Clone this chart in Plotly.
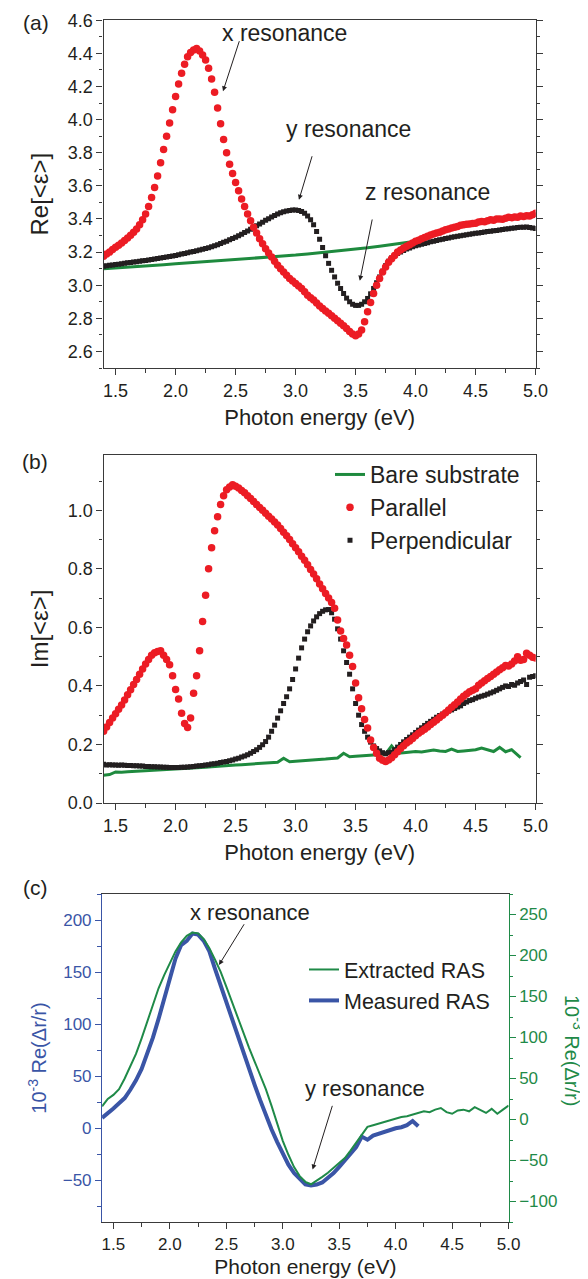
import plotly.graph_objects as go

# ---------------- data ----------------
energy = [
    1.400, 1.425, 1.450, 1.475, 1.500, 1.525, 1.550, 1.575,
    1.600, 1.625, 1.650, 1.675, 1.700, 1.725, 1.750, 1.775,
    1.800, 1.825, 1.850, 1.875, 1.900, 1.925, 1.950, 1.975,
    2.000, 2.025, 2.050, 2.075, 2.100, 2.125, 2.150, 2.175,
    2.200, 2.225, 2.250, 2.275, 2.300, 2.325, 2.350, 2.375,
    2.400, 2.425, 2.450, 2.475, 2.500, 2.525, 2.550, 2.575,
    2.600, 2.625, 2.650, 2.675, 2.700, 2.725, 2.750, 2.775,
    2.800, 2.825, 2.850, 2.875, 2.900, 2.925, 2.950, 2.975,
    3.000, 3.025, 3.050, 3.075, 3.100, 3.125, 3.150, 3.175,
    3.200, 3.225, 3.250, 3.275, 3.300, 3.325, 3.350, 3.375,
    3.400, 3.425, 3.450, 3.475, 3.500, 3.525, 3.550, 3.575,
    3.600, 3.625, 3.650, 3.675, 3.700, 3.725, 3.750, 3.775,
    3.800, 3.825, 3.850, 3.875, 3.900, 3.925, 3.950, 3.975,
    4.000, 4.025, 4.050, 4.075, 4.100, 4.125, 4.150, 4.175,
    4.200, 4.225, 4.250, 4.275, 4.300, 4.325, 4.350, 4.375,
    4.400, 4.425, 4.450, 4.475, 4.500, 4.525, 4.550, 4.575,
    4.600, 4.625, 4.650, 4.675, 4.700, 4.725, 4.750, 4.775,
    4.800, 4.825, 4.850, 4.875, 4.900, 4.925, 4.950, 4.975,
    5.000]

# (a) Re<eps>
re_parallel = [
    3.175, 3.188, 3.200, 3.215, 3.230, 3.242, 3.255, 3.270,
    3.285, 3.302, 3.320, 3.340, 3.365, 3.395, 3.430, 3.475,
    3.530, 3.590, 3.660, 3.740, 3.820, 3.900, 3.980, 4.060,
    4.140, 4.215, 4.280, 4.335, 4.380, 4.405, 4.420, 4.430,
    4.415, 4.390, 4.360, 4.310, 4.245, 4.165, 4.070, 3.975,
    3.880, 3.800, 3.730, 3.675, 3.620, 3.570, 3.520, 3.475,
    3.430, 3.390, 3.350, 3.315, 3.280, 3.250, 3.220, 3.195,
    3.170, 3.145, 3.120, 3.100, 3.080, 3.060, 3.040, 3.025,
    3.010, 2.995, 2.980, 2.960, 2.940, 2.925, 2.910, 2.892,
    2.875, 2.860, 2.845, 2.830, 2.815, 2.800, 2.785, 2.770,
    2.755, 2.738, 2.720, 2.705, 2.695, 2.705, 2.730, 2.780,
    2.840, 2.895, 2.950, 3.000, 3.040, 3.080, 3.110, 3.138,
    3.160, 3.180, 3.200, 3.213, 3.225, 3.235, 3.245, 3.255,
    3.265, 3.272, 3.280, 3.288, 3.295, 3.303, 3.310, 3.315,
    3.320, 3.328, 3.335, 3.340, 3.345, 3.350, 3.355, 3.362,
    3.365, 3.368, 3.370, 3.372, 3.375, 3.382, 3.385, 3.383,
    3.390, 3.395, 3.392, 3.400, 3.400, 3.398, 3.405, 3.410,
    3.408, 3.412, 3.410, 3.418, 3.415, 3.420, 3.418, 3.425,
    3.435]

re_perpendicular = [
    3.115, 3.117, 3.120, 3.122, 3.125, 3.127, 3.130, 3.132,
    3.135, 3.137, 3.140, 3.142, 3.145, 3.148, 3.150, 3.153,
    3.155, 3.158, 3.162, 3.165, 3.168, 3.171, 3.174, 3.177,
    3.180, 3.184, 3.188, 3.192, 3.196, 3.200, 3.204, 3.208,
    3.212, 3.217, 3.222, 3.227, 3.233, 3.239, 3.245, 3.252,
    3.259, 3.266, 3.274, 3.282, 3.290, 3.299, 3.308, 3.318,
    3.328, 3.338, 3.348, 3.359, 3.370, 3.381, 3.392, 3.402,
    3.412, 3.421, 3.430, 3.437, 3.443, 3.448, 3.452, 3.454,
    3.454, 3.451, 3.445, 3.435, 3.418, 3.395, 3.365, 3.325,
    3.278, 3.228, 3.178, 3.132, 3.090, 3.050, 3.012, 2.980,
    2.950, 2.922, 2.900, 2.885, 2.878, 2.878, 2.885, 2.900,
    2.920, 2.948, 2.980, 3.015, 3.050, 3.085, 3.118, 3.145,
    3.165, 3.180, 3.192, 3.201, 3.210, 3.218, 3.225, 3.232,
    3.238, 3.243, 3.248, 3.252, 3.257, 3.262, 3.266, 3.270,
    3.274, 3.278, 3.282, 3.285, 3.289, 3.292, 3.296, 3.299,
    3.302, 3.305, 3.308, 3.311, 3.314, 3.316, 3.318, 3.321,
    3.324, 3.326, 3.329, 3.331, 3.334, 3.336, 3.339, 3.341,
    3.344, 3.346, 3.348, 3.350, 3.350, 3.352, 3.348, 3.345,
    3.342]

re_substrate_energy = [1.4, 1.5, 1.6, 1.7, 1.8, 1.9, 2.0, 2.1, 2.2, 2.3, 2.4, 2.5, 2.6, 2.7,
                       2.8, 2.9, 3.0, 3.1, 3.2, 3.3, 3.4, 3.5, 3.6, 3.7, 3.8, 3.9, 4.0]
re_substrate = [3.100, 3.104, 3.109, 3.114, 3.119, 3.124, 3.129, 3.134, 3.139, 3.144,
                3.149, 3.154, 3.159, 3.165, 3.171, 3.176, 3.182, 3.189, 3.196, 3.203,
                3.210, 3.218, 3.226, 3.236, 3.246, 3.256, 3.266]

# (b) Im<eps>
im_parallel = [
    0.245, 0.260, 0.275, 0.290, 0.305, 0.320, 0.335, 0.352,
    0.370, 0.387, 0.405, 0.422, 0.440, 0.458, 0.475, 0.490,
    0.505, 0.513, 0.518, 0.520, 0.505, 0.490, 0.472, 0.435,
    0.388, 0.355, 0.307, 0.272, 0.258, 0.290, 0.375, 0.435,
    0.520, 0.620, 0.710, 0.800, 0.872, 0.930, 0.978, 1.020,
    1.050, 1.070, 1.080, 1.087, 1.082, 1.076, 1.068, 1.060,
    1.050, 1.040, 1.030, 1.020, 1.010, 1.000, 0.990, 0.980,
    0.970, 0.960, 0.950, 0.938, 0.925, 0.913, 0.900, 0.886,
    0.872, 0.858, 0.843, 0.829, 0.814, 0.798, 0.782, 0.766,
    0.748, 0.732, 0.716, 0.700, 0.685, 0.665, 0.625, 0.588,
    0.562, 0.540, 0.505, 0.466, 0.410, 0.360, 0.322, 0.285,
    0.256, 0.215, 0.190, 0.170, 0.153, 0.146, 0.142, 0.147,
    0.155, 0.165, 0.175, 0.186, 0.196, 0.205, 0.212, 0.220,
    0.230, 0.238, 0.245, 0.252, 0.260, 0.268, 0.276, 0.284,
    0.292, 0.300, 0.308, 0.318, 0.327, 0.336, 0.345, 0.355,
    0.365, 0.372, 0.380, 0.385, 0.390, 0.402, 0.410, 0.418,
    0.425, 0.432, 0.440, 0.448, 0.455, 0.462, 0.470, 0.468,
    0.475, 0.485, 0.500, 0.488, 0.490, 0.512, 0.505, 0.498,
    0.495]

im_perpendicular = [
    0.132, 0.130, 0.131, 0.130, 0.130, 0.129, 0.130, 0.129,
    0.128, 0.128, 0.127, 0.127, 0.126, 0.126, 0.125, 0.125,
    0.124, 0.124, 0.123, 0.123, 0.122, 0.122, 0.121, 0.121,
    0.121, 0.121, 0.122, 0.122, 0.123, 0.124, 0.125, 0.126,
    0.127, 0.128, 0.130, 0.131, 0.133, 0.134, 0.136, 0.138,
    0.140, 0.142, 0.144, 0.147, 0.150, 0.153, 0.157, 0.161,
    0.165, 0.170, 0.176, 0.182, 0.190, 0.199, 0.210, 0.225,
    0.245, 0.266, 0.290, 0.315, 0.340, 0.363, 0.390, 0.422,
    0.458, 0.495, 0.530, 0.560, 0.585, 0.605, 0.622, 0.636,
    0.647, 0.655, 0.660, 0.661, 0.650, 0.628, 0.595, 0.560,
    0.520, 0.480, 0.440, 0.390, 0.340, 0.300, 0.268, 0.245,
    0.225, 0.208, 0.195, 0.186, 0.178, 0.172, 0.168, 0.172,
    0.174, 0.182, 0.191, 0.200, 0.209, 0.217, 0.225, 0.233,
    0.241, 0.249, 0.257, 0.265, 0.272, 0.279, 0.286, 0.293,
    0.299, 0.304, 0.309, 0.314, 0.318, 0.323, 0.328, 0.332,
    0.340, 0.345, 0.350, 0.353, 0.358, 0.362, 0.365, 0.368,
    0.372, 0.376, 0.380, 0.385, 0.390, 0.395, 0.400, 0.398,
    0.405, 0.402, 0.410, 0.415, 0.420, 0.405, 0.430, 0.432,
    0.435]

im_substrate_energy = [
    1.40, 1.45, 1.50, 1.55, 1.60, 1.65, 1.70, 1.75,
    1.80, 1.85, 1.90, 1.95, 2.00, 2.05, 2.10, 2.15,
    2.20, 2.25, 2.30, 2.35, 2.40, 2.45, 2.50, 2.55,
    2.60, 2.65, 2.70, 2.75, 2.80, 2.85, 2.90, 2.95,
    3.00, 3.05, 3.10, 3.15, 3.20, 3.25, 3.30, 3.35,
    3.40, 3.45, 3.50, 3.55, 3.60, 3.65, 3.70, 3.75,
    3.80, 3.85, 3.90, 3.95, 4.00, 4.05, 4.10, 4.15,
    4.20, 4.25, 4.30, 4.35, 4.40, 4.45, 4.50, 4.55,
    4.60, 4.65, 4.70, 4.75, 4.80, 4.85, 4.875]
im_substrate = [
    0.095, 0.097, 0.106, 0.105, 0.107, 0.108, 0.110, 0.110,
    0.112, 0.113, 0.114, 0.115, 0.116, 0.117, 0.118, 0.119,
    0.120, 0.122, 0.124, 0.126, 0.127, 0.128, 0.130, 0.131,
    0.132, 0.133, 0.135, 0.136, 0.138, 0.139, 0.153, 0.141,
    0.143, 0.144, 0.146, 0.147, 0.148, 0.150, 0.152, 0.154,
    0.170, 0.158, 0.160, 0.162, 0.163, 0.164, 0.165, 0.168,
    0.195, 0.170, 0.172, 0.175, 0.176, 0.174, 0.178, 0.181,
    0.178, 0.176, 0.184, 0.176, 0.178, 0.181, 0.182, 0.188,
    0.183, 0.176, 0.190, 0.175, 0.182, 0.163, 0.155]

# (c) RAS
ras_measured_energy = [
    1.40, 1.45, 1.50, 1.55, 1.60, 1.65, 1.70, 1.75,
    1.80, 1.85, 1.90, 1.95, 2.00, 2.05, 2.10, 2.15,
    2.20, 2.25, 2.30, 2.35, 2.40, 2.45, 2.50, 2.55,
    2.60, 2.65, 2.70, 2.75, 2.80, 2.85, 2.90, 2.95,
    3.00, 3.05, 3.10, 3.15, 3.20, 3.25, 3.30, 3.35,
    3.40, 3.45, 3.50, 3.55, 3.60, 3.65, 3.70, 3.75,
    3.80, 3.85, 3.90, 3.95, 4.00, 4.05, 4.10, 4.15,
    4.20]
ras_measured = [
    10, 14, 19, 24, 29, 37, 46, 57,
    71, 87, 105, 125, 146, 163, 176, 180,
    187, 186, 180, 170, 153, 137, 120, 104,
    89, 73, 57, 42, 27, 12, -1, -13,
    -25, -35, -43, -49, -54, -55, -54, -52,
    -48, -43, -37, -31, -25, -18, -8, -11,
    -7, -5, -3, -2, 0, 1, 3, 7,
    2]

ras_extracted_energy = [
    1.40, 1.45, 1.50, 1.55, 1.60, 1.65, 1.70, 1.75,
    1.80, 1.85, 1.90, 1.95, 2.00, 2.05, 2.10, 2.15,
    2.20, 2.25, 2.30, 2.35, 2.40, 2.45, 2.50, 2.55,
    2.60, 2.65, 2.70, 2.75, 2.80, 2.85, 2.90, 2.95,
    3.00, 3.05, 3.10, 3.15, 3.20, 3.25, 3.30, 3.35,
    3.40, 3.45, 3.50, 3.55, 3.60, 3.65, 3.70, 3.75,
    3.80, 3.85, 3.90, 3.95, 4.00, 4.05, 4.10, 4.15,
    4.20, 4.25, 4.30, 4.35, 4.40, 4.45, 4.50, 4.55,
    4.60, 4.65, 4.70, 4.75, 4.80, 4.85, 4.90, 4.95,
    5.00]
ras_extracted = [
    16, 25, 30, 37, 50, 65, 80, 99,
    119, 140, 160, 176, 191, 205, 216, 224,
    228, 227, 220, 209, 195, 180, 162, 143,
    124, 106, 88, 71, 54, 37, 17, -6,
    -26, -43, -58, -69, -76, -79, -75, -70,
    -65, -59, -53, -47, -38, -28, -18, -9,
    -7, -5, -3, -1, 1, 3, 4, 6,
    8, 10, 9, 12, 14, 9, 7, 11,
    12, 10, 15, 11, 8, 13, 7, 12,
    17]

x_ticks = [1.5, 2.0, 2.5, 3.0, 3.5, 4.0, 4.5, 5.0]

# ---------------- style ----------------
W, H = 588, 1279
FONT = "Liberation Sans, Arial, Helvetica, sans-serif"
INK = "#231f20"
RED = "#ec1c24"
GREEN = "#1e8a3e"
BLUE = "#3a55a6"
GREEN_C = "#1f8a48"


def px(x):
    return x / W


def py(y):
    return 1 - y / H


def axis_common(color=INK, linecolor="#3a3a3a"):
    return dict(
        showline=True, linecolor=linecolor, linewidth=1.3,
        ticks="outside", ticklen=6, tickwidth=1.2, tickcolor=linecolor,
        showgrid=False, zeroline=False, automargin=False,
        tickfont=dict(family=FONT, size=18, color=color),
    )


fig = go.Figure()

# panel a
fig.add_trace(go.Scatter(x=re_substrate_energy, y=re_substrate, mode="lines",
                         line=dict(color=GREEN, width=3), xaxis="x", yaxis="y",
                         showlegend=False))
fig.add_trace(go.Scatter(x=energy, y=re_perpendicular, mode="markers",
                         marker=dict(symbol="square", size=5, color=INK),
                         xaxis="x", yaxis="y", showlegend=False))
fig.add_trace(go.Scatter(x=energy, y=re_parallel, mode="markers",
                         marker=dict(symbol="circle", size=7.5, color=RED),
                         xaxis="x", yaxis="y", showlegend=False))

# panel b
fig.add_trace(go.Scatter(x=im_substrate_energy, y=im_substrate, mode="lines",
                         name="Bare substrate", line=dict(color=GREEN, width=3),
                         xaxis="x2", yaxis="y2", legend="legend", legendrank=1))
fig.add_trace(go.Scatter(x=energy, y=im_perpendicular, mode="markers",
                         name="Perpendicular",
                         marker=dict(symbol="square", size=5, color=INK),
                         xaxis="x2", yaxis="y2", legend="legend", legendrank=3))
fig.add_trace(go.Scatter(x=energy, y=im_parallel, mode="markers", name="Parallel",
                         marker=dict(symbol="circle", size=7.5, color=RED),
                         xaxis="x2", yaxis="y2", legend="legend", legendrank=2))

# panel c
fig.add_trace(go.Scatter(x=ras_measured_energy, y=ras_measured, mode="lines",
                         name="Measured RAS", line=dict(color=BLUE, width=4),
                         xaxis="x3", yaxis="y3", legend="legend2", legendrank=2))
fig.add_trace(go.Scatter(x=ras_extracted_energy, y=ras_extracted, mode="lines",
                         name="Extracted RAS", line=dict(color=GREEN_C, width=2),
                         xaxis="x3", yaxis="y4", legend="legend2", legendrank=1))

xa = axis_common()
xa.update(range=[1.4, 5.0], tickvals=x_ticks, ticktext=[f"{v:.1f}" for v in x_ticks],
          minor=dict(ticks="outside", ticklen=3.5, tickwidth=1, tickcolor="#3a3a3a",
                     tick0=1.5, dtick=0.25),
          mirror=True)

x_title = dict(text="Photon energy (eV)", font=dict(family=FONT, size=22, color=INK),
               standoff=9)

layout = dict(
    width=W, height=H, margin=dict(l=0, r=0, t=0, b=0, autoexpand=False),
    paper_bgcolor="white", plot_bgcolor="white",
    font=dict(family=FONT, color=INK),
)

# panel a axes
xaxis = dict(xa, domain=[px(95.6), px(527.6)], anchor="y", title=x_title)
yaxis = axis_common()
yaxis.update(domain=[py(360), py(12.3)], anchor="x", range=[2.5, 4.6], tick0=2.6, dtick=0.2,
             tickformat=".1f", mirror="ticks",
             minor=dict(ticks="outside", ticklen=3.5, tickwidth=1, tickcolor="#3a3a3a", dtick=0.1),
             title=dict(text="Re[<ε>]", font=dict(family=FONT, size=24, color=INK), standoff=12))

# panel b axes
xaxis2 = dict(xa, domain=[px(95.6), px(527.6)], anchor="y2", title=x_title)
yaxis2 = axis_common()
yaxis2.update(domain=[py(795), py(446.7)], anchor="x2", range=[0, 1.19], tick0=0, dtick=0.2,
              tickformat=".1f", mirror="ticks",
              minor=dict(ticks="outside", ticklen=3.5, tickwidth=1, tickcolor="#3a3a3a", dtick=0.1),
              title=dict(text="Im[<ε>]", font=dict(family=FONT, size=24, color=INK), standoff=12))

# panel c axes
xaxis3 = dict(xa, domain=[px(94.1), px(500.6)], anchor="y3",
              title=dict(text="Photon energy (eV)", font=dict(family=FONT, size=21, color=INK),
                         standoff=6))
xaxis3["tickfont"] = dict(family=FONT, size=17, color=INK)
yaxis3 = axis_common(color=BLUE, linecolor=BLUE)
yaxis3.update(domain=[py(1214), py(886)], anchor="x3", range=[-90, 225], tick0=0, dtick=50,
              tickfont=dict(family=FONT, size=17, color=BLUE),
              minor=dict(ticks="outside", ticklen=3.5, tickwidth=1, tickcolor=BLUE, dtick=25),
              title=dict(text="10<sup>-3</sup> Re(Δr/r)",
                         font=dict(family=FONT, size=20, color=BLUE), standoff=10))
yaxis4 = axis_common(color=GREEN_C, linecolor=GREEN_C)
yaxis4.update(overlaying="y3", side="right", anchor="x3", range=[-125, 275], tick0=0, dtick=50,
              tickfont=dict(family=FONT, size=17, color=GREEN_C),
              minor=dict(ticks="outside", ticklen=3.5, tickwidth=1, tickcolor=GREEN_C, dtick=25))

layout.update(xaxis=xaxis, yaxis=yaxis, xaxis2=xaxis2, yaxis2=yaxis2,
              xaxis3=xaxis3, yaxis3=yaxis3, yaxis4=yaxis4)

layout["legend"] = dict(x=px(322), y=py(445), xanchor="left", yanchor="top",
                        bgcolor="rgba(0,0,0,0)", borderwidth=0,
                        font=dict(family=FONT, size=23, color=INK), tracegroupgap=0,
                        itemsizing="trace")
layout["legend2"] = dict(x=px(296), y=py(941), xanchor="left", yanchor="top",
                         bgcolor="rgba(0,0,0,0)", borderwidth=0,
                         font=dict(family=FONT, size=21.5, color=INK), tracegroupgap=0)

ann = []
for label, (x0, y0) in {"(a)": (28, 14), "(b)": (27, 453), "(c)": (27, 879)}.items():
    ann.append(dict(text=label, x=px(x0), y=py(y0), xref="paper", yref="paper",
                    xanchor="center", yanchor="middle", showarrow=False,
                    font=dict(family=FONT, size=21, color=INK)))

# right-hand axis title of panel (c), reading top to bottom
ann.append(dict(text="10<sup>-3</sup> Re(Δr/r)", x=px(566), y=py(1042), xref="paper",
                yref="paper", xanchor="center", yanchor="middle", showarrow=False,
                textangle=90, font=dict(family=FONT, size=20, color=GREEN_C)))

# panel a annotations (data coordinates)
ann_a = [
    ("x resonance", 2.908, 4.523, 2.395, 4.171, 2.535, 4.483),
    ("y resonance", 3.437, 3.945, 3.028, 3.516, 3.141, 3.788),
    ("z resonance", 4.095, 3.561, 3.535, 3.027, 3.641, 3.406),
]
for text, tx, ty, hx, hy, tlx, tly in ann_a:
    ann.append(dict(text=text, x=tx, y=ty, xref="x", yref="y", showarrow=False,
                    xanchor="center", yanchor="middle",
                    font=dict(family=FONT, size=23, color=INK)))
    ann.append(dict(text="", x=hx, y=hy, ax=tlx, ay=tly, xref="x", yref="y",
                    axref="x", ayref="y", showarrow=True, arrowhead=2, arrowsize=1,
                    arrowwidth=1, arrowcolor=INK))

ann_c = [
    ("x resonance", 2.706, 207, 2.435, 156.8, 2.666, 197.4),
    ("y resonance", 3.729, 38.3, 3.264, -39.5, 3.443, 23.0),
]
for text, tx, ty, hx, hy, tlx, tly in ann_c:
    ann.append(dict(text=text, x=tx, y=ty, xref="x3", yref="y3", showarrow=False,
                    xanchor="center", yanchor="middle",
                    font=dict(family=FONT, size=22, color=INK)))
    ann.append(dict(text="", x=hx, y=hy, ax=tlx, ay=tly, xref="x3", yref="y3",
                    axref="x3", ayref="y3", showarrow=True, arrowhead=2, arrowsize=1,
                    arrowwidth=1, arrowcolor=INK))

layout["annotations"] = ann
fig.update_layout(layout)

fig.write_html("out.html", config={"displayModeBar": False})
